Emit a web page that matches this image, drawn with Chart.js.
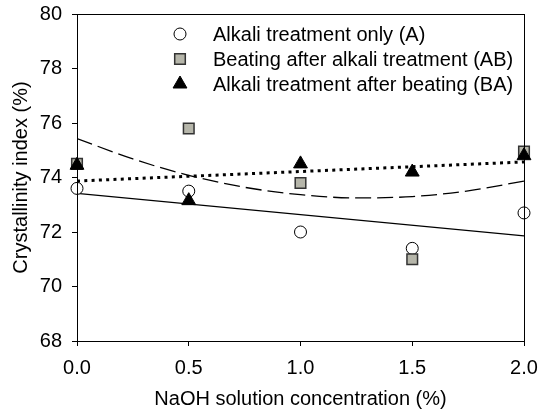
<!DOCTYPE html>
<html>
<head>
<meta charset="utf-8">
<script src="https://cdn.jsdelivr.net/npm/chart.js@4"></script>
<style>
  html, body { margin: 0; background: #fff; }
  #wrap { width: 539px; height: 414px; }
</style>
</head>
<body>
<div id="wrap"><canvas id="myChart"></canvas></div>
<script>
// measured values
var concentration = [0, 0.5, 1.0, 1.5, 2.0];
var alkaliOnly = [73.6, 73.5, 72.0, 71.4, 72.7];
var beatingAfterAlkali = [74.5, 75.8, 73.8, 71.0, 74.95];
var alkaliAfterBeating = [74.45, 73.15, 74.5, 74.2, 74.8];

// trend lines
var lineX = [0, 2.0];
var trendA = [73.42, 71.86];
var trendBA = [73.87, 74.57];
var curveX = [0, 0.25, 0.5, 0.75, 1.0, 1.25, 1.5, 1.75, 2.0];
var trendAB = [75.43, 74.68, 74.08, 73.64, 73.37, 73.25, 73.30, 73.51, 73.87];

var yTicks = [68, 70, 72, 74, 76, 78, 80];
var xTicks = [0, 0.5, 1.0, 1.5, 2.0];

var legendLabels = [
  "Alkali treatment only (A)",
  "Beating after alkali treatment (AB)",
  "Alkali treatment after beating (BA)",
];

Chart.defaults.font.family = "'Liberation Sans', Arial, sans-serif";
Chart.defaults.font.size = 20;
Chart.defaults.color = "#000";

function toPoints(xs, ys) {
  return xs.map((x, i) => ({ x: x, y: ys[i] }));
}

var markerA = { pointStyle: "circle", radius: 6, backgroundColor: "#fff", borderColor: "#000", borderWidth: 1 };
var markerAB = { pointStyle: "rect", radius: 7.5, backgroundColor: "#b6b6aa", borderColor: "#333", borderWidth: 1.5 };
var markerBA = { pointStyle: "triangle", radius: 8, backgroundColor: "#000", borderColor: "#000", borderWidth: 1 };
var markers = [markerA, markerAB, markerBA];

// lower order = drawn later (on top)
function markerDataset(label, ys, m, order) {
  return {
    label: label,
    data: toPoints(concentration, ys),
    showLine: false,
    pointStyle: m.pointStyle,
    pointRadius: m.radius,
    pointBackgroundColor: m.backgroundColor,
    pointBorderColor: m.borderColor,
    pointBorderWidth: m.borderWidth,
    clip: false,
    order: order,
  };
}

// frame round the plot area and the legend inside it
var framePlugin = {
  id: "frame",
  afterDraw(chart) {
    const ctx = chart.ctx;
    const a = chart.chartArea;
    ctx.save();
    ctx.strokeStyle = "#000";
    ctx.lineWidth = 1;
    ctx.strokeRect(Math.round(a.left) + 0.5, Math.round(a.top) + 0.5, Math.round(a.right - a.left), Math.round(a.bottom - a.top));

    ctx.font = "20px 'Liberation Sans', Arial, sans-serif";
    ctx.textBaseline = "middle";
    legendLabels.forEach((text, i) => {
      const y = 34 + i * 25;
      const m = markers[i];
      ctx.fillStyle = m.backgroundColor;
      ctx.strokeStyle = m.borderColor;
      ctx.lineWidth = m.borderWidth;
      Chart.helpers.drawPoint(ctx, { pointStyle: m.pointStyle, radius: m.radius, borderWidth: m.borderWidth, rotation: 0 }, 180, y);
      ctx.fillStyle = "#000";
      ctx.fillText(text, 213, y + 1);
    });
    ctx.restore();
  },
};

var ctx = document.getElementById("myChart").getContext("2d");
var chart = new Chart(ctx, {
  type: "scatter",
  data: {
    datasets: [
      markerDataset(legendLabels[0], alkaliOnly, markerA, 2),
      markerDataset(legendLabels[1], beatingAfterAlkali, markerAB, 1),
      markerDataset(legendLabels[2], alkaliAfterBeating, markerBA, 0),
      {
        label: "A fit",
        data: toPoints(lineX, trendA),
        showLine: true,
        borderColor: "#000",
        borderWidth: 1.3,
        pointRadius: 0,
        order: 3,
      },
      {
        label: "AB fit",
        data: toPoints(curveX, trendAB),
        showLine: true,
        borderColor: "#000",
        borderWidth: 1.3,
        borderDash: [16, 6],
        cubicInterpolationMode: "monotone",
        pointRadius: 0,
        order: 3,
      },
      {
        label: "BA fit",
        data: toPoints(lineX, trendBA),
        showLine: true,
        borderColor: "#000",
        borderWidth: 3,
        borderDash: [3, 4.3],
        pointRadius: 0,
        order: 3,
      },
    ],
  },
  options: {
    responsive: true,
    maintainAspectRatio: false,
    animation: false,
    layout: { padding: { top: 14, right: 15, left: 0, bottom: 0 } },
    plugins: {
      legend: { display: false },
      tooltip: { enabled: false },
    },
    scales: {
      x: {
        type: "linear",
        min: 0,
        max: 2,
        afterBuildTicks: (scale) => { scale.ticks = xTicks.map((v) => ({ value: v })); },
        afterFit: (scale) => {
          scale.height = 73;
          scale.paddingLeft = 0;
          scale.paddingRight = 0;
        },
        ticks: { callback: (v) => v.toFixed(1), padding: 10, maxRotation: 0 },
        grid: { drawOnChartArea: false, drawTicks: true, tickLength: 5, tickColor: "#000" },
        border: { color: "#000", width: 1 },
        title: { display: true, text: "NaOH solution concentration (%)", padding: { top: 0, bottom: 3 } },
      },
      y: {
        type: "linear",
        min: 68,
        max: 80,
        afterBuildTicks: (scale) => { scale.ticks = yTicks.map((v) => ({ value: v })); },
        afterFit: (scale) => {
          scale.width = 77;
          scale.paddingTop = 0;
          scale.paddingBottom = 0;
        },
        ticks: { padding: 10 },
        grid: { drawOnChartArea: false, drawTicks: true, tickLength: 5, tickColor: "#000" },
        border: { color: "#000", width: 1 },
        title: { display: true, text: "Crystallinity index (%)", padding: { top: 9, bottom: 0 } },
      },
    },
  },
  plugins: [framePlugin],
});
</script>
</body>
</html>
